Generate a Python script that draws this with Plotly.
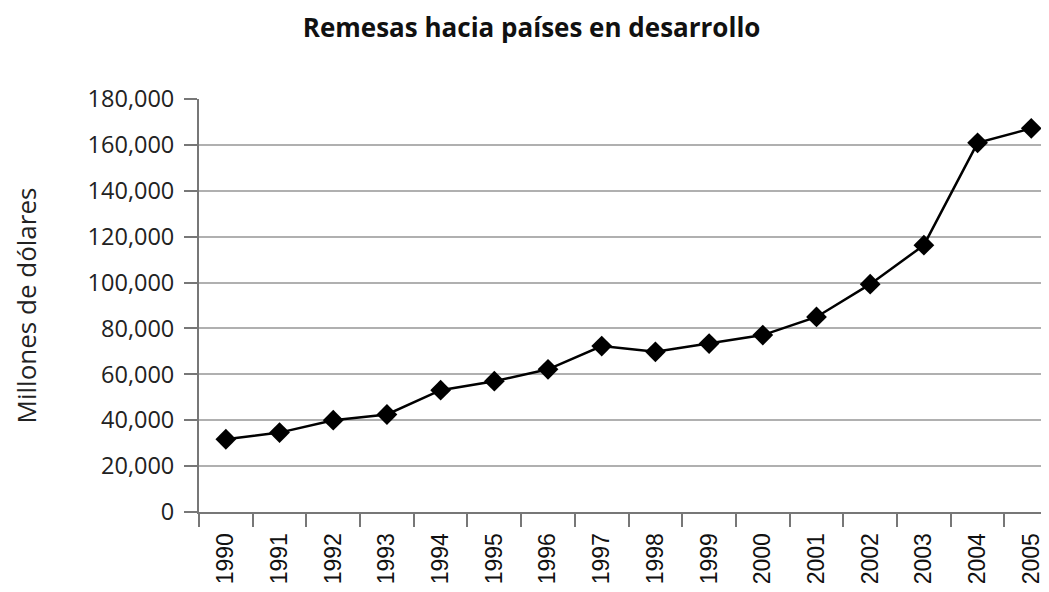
import plotly.graph_objects as go

# años y remesas (millones de dólares)
years = ["1990", "1991", "1992", "1993", "1994", "1995", "1996", "1997",
         "1998", "1999", "2000", "2001", "2002", "2003", "2004", "2005"]
remesas = [31700, 34600, 40000, 42500, 53100, 57000, 62200, 72300,
           69800, 73400, 77100, 85000, 99300, 116300, 160900, 167200]

y_ticks = [0, 20000, 40000, 60000, 80000, 100000, 120000, 140000, 160000, 180000]
y_labels = ["0", "20,000", "40,000", "60,000", "80,000", "100,000",
            "120,000", "140,000", "160,000", "180,000"]

fig = go.Figure()

fig.add_trace(go.Scatter(
    x=years,
    y=remesas,
    mode="lines+markers",
    line=dict(color="black", width=2.5),
    marker=dict(symbol="diamond", size=16, color="black"),
    showlegend=False
))

# la página tiene 8px de margen, por eso 1041x584
fig.update_layout(
    title=dict(text="<b>Remesas hacia países en desarrollo</b>",
               x=0.503, xanchor="center", y=0.966, yanchor="middle",
               font=dict(family="Open Sans", size=26, color="#111")),
    width=1041,
    height=584,
    margin=dict(l=191, r=0, t=91, b=80),
    paper_bgcolor="white",
    plot_bgcolor="white",
    font=dict(family="Open Sans", color="#222")
)

fig.update_xaxes(
    type="category",
    range=[-0.5, 15.33],
    tickson="boundaries",
    ticks="outside",
    ticklen=13,
    tickwidth=2,
    tickcolor="#777",
    tickangle=-90,
    tickfont=dict(family="Liberation Sans", size=23, color="#111"),
    showline=True,
    linecolor="#777",
    linewidth=2,
    showgrid=False,
    ticklabelstandoff=10
)

fig.update_yaxes(
    range=[0, 180000],
    tickvals=y_ticks,
    ticktext=y_labels,
    ticks="outside",
    ticklen=13,
    tickwidth=2,
    tickcolor="#777",
    tickfont=dict(family="Open Sans", size=23.5, color="#222"),
    ticklabelstandoff=5,
    showline=True,
    linecolor="#777",
    linewidth=2,
    showgrid=True,
    gridcolor="#b0b0b0",
    gridwidth=2,
    zeroline=False,
    title=dict(text="Millones de dólares", standoff=60,
               font=dict(family="Open Sans", size=26, color="#222"))
)

fig.write_html("out.html")
